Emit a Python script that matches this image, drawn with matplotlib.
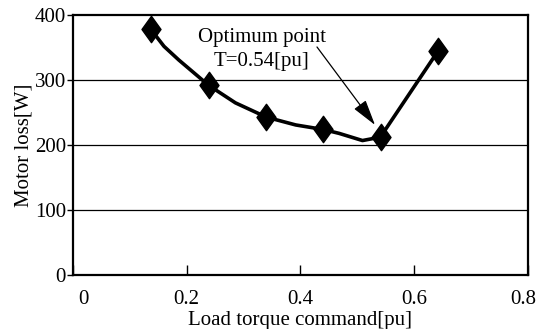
import matplotlib
matplotlib.use("Agg")
import matplotlib.pyplot as plt
from matplotlib.path import Path
from matplotlib.transforms import ScaledTranslation

# Data
marker_x = [0.137, 0.2385, 0.340, 0.440, 0.541, 0.642]
marker_y = [378, 292, 243, 224, 213, 345]
line_x = [0.137, 0.160, 0.186, 0.2385, 0.2856, 0.340, 0.3916, 0.440, 0.468, 0.509, 0.527, 0.541, 0.642]
line_y = [378, 352, 331, 292, 265, 243, 231, 224, 218, 207, 210, 213, 345]
x_ticks = [0, 0.2, 0.4, 0.6, 0.8]
x_tick_labels = ["0", "0.2", "0.4", "0.6", "0.8"]
y_ticks = [0, 100, 200, 300, 400]
y_tick_labels = ["0", "100", "200", "300", "400"]

plt.rcParams['font.family'] = ['Liberation Serif', 'DejaVu Serif']

fig = plt.figure(figsize=(5.5, 3.29), dpi=100)
ax = fig.add_axes([0.1327, 0.164, 0.8273, 0.790])

diamond = Path([(0, 1), (0.72, 0), (0, -1), (-0.72, 0), (0, 1)],
               [Path.MOVETO, Path.LINETO, Path.LINETO, Path.LINETO, Path.CLOSEPOLY])

ax.plot(line_x, line_y, color='black', lw=2.6, solid_joinstyle='round', zorder=3)
ax.plot(marker_x, marker_y, linestyle='none', marker=diamond, markersize=19,
        color='black', zorder=4)

ax.set_xlim(0, 0.8)
ax.set_ylim(0, 400)
ax.set_xticks(x_ticks)
ax.set_xticklabels(x_tick_labels)
ax.set_yticks(y_ticks)
ax.set_yticklabels(y_tick_labels)
ax.tick_params(axis='x', direction='in', length=7, width=1, labelsize=15, pad=11)
ax.tick_params(axis='y', direction='out', length=4, width=1, labelsize=15, pad=1)

# edge tick labels nudged inward as in the reference
xl = ax.get_xticklabels()
xl[0].set_transform(xl[0].get_transform() + ScaledTranslation(10 / 100, 0, fig.dpi_scale_trans))
xl[-1].set_transform(xl[-1].get_transform() + ScaledTranslation(-5 / 100, 0, fig.dpi_scale_trans))

for yv in y_ticks[1:-1]:
    ax.axhline(yv, color='black', lw=0.9, zorder=1)

for s in ax.spines.values():
    s.set_linewidth(1.6)
    s.set_color('black')

ax.set_xlabel("Load torque command[pu]", fontsize=15, labelpad=1)
ax.set_ylabel("Motor loss[W]", fontsize=15, labelpad=1)

ax.text(0.332, 347, "Optimum point\nT=0.54[pu]", ha='center', va='center',
        fontsize=15, linespacing=1.35, zorder=5)
ax.annotate("", xy=(0.531, 231), xytext=(0.429, 351),
            arrowprops=dict(arrowstyle='-|>,head_length=1.0,head_width=0.28',
                            color='black', lw=0.9, mutation_scale=16,
                            shrinkA=0, shrinkB=0),
            zorder=5)

fig.savefig("out.png", dpi=100)
